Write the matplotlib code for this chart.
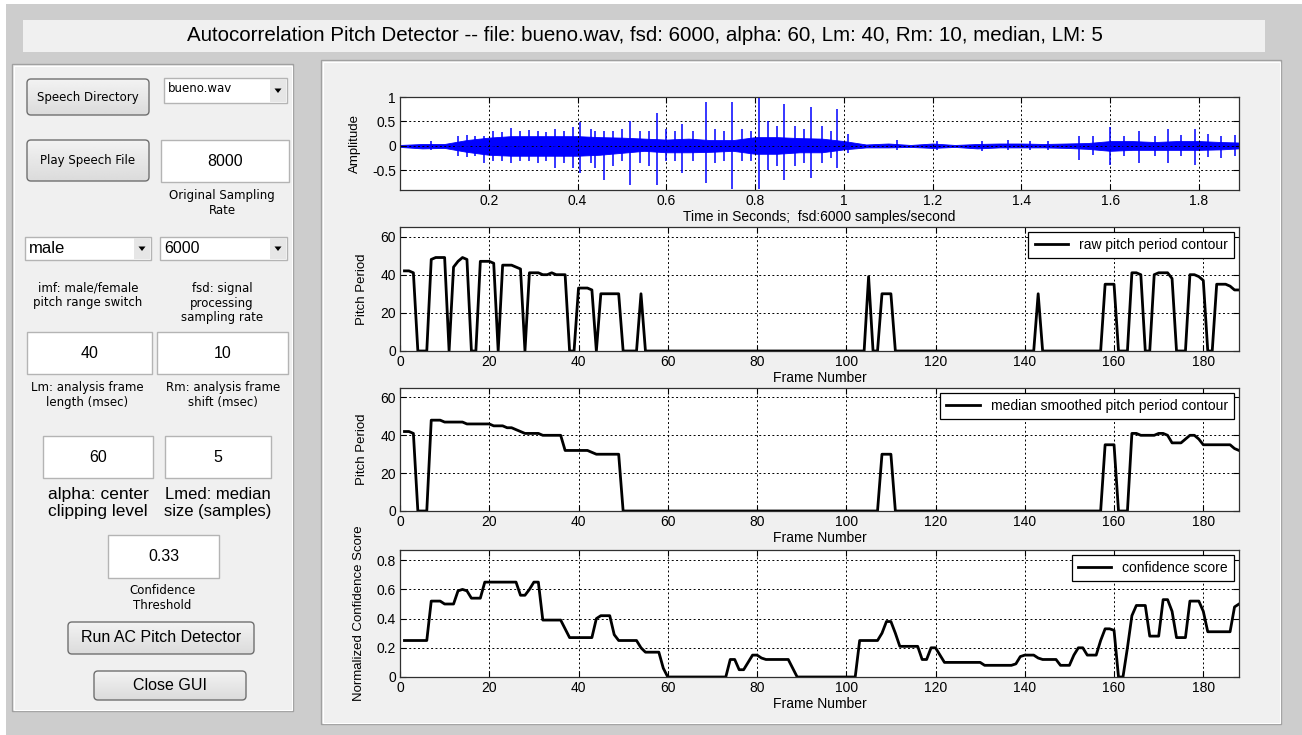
import numpy as np
import matplotlib
matplotlib.use('Agg')
import matplotlib.pyplot as plt
from matplotlib import font_manager
from matplotlib.patches import Rectangle, FancyBboxPatch, Polygon

W, H = 1302, 735

# ---- data ----
frames = np.arange(1, 189)

raw_pitch = ([42, 42, 41, 0, 0, 0, 48, 49, 49, 49, 0,
              44, 47, 49, 48, 0, 0, 47, 47, 47, 46, 0,
              45, 45, 45, 44, 43, 0,
              41, 41, 41, 40, 40, 41, 40, 40, 40, 0, 0,
              33, 33, 33, 32, 0, 30, 30, 30, 30, 30, 0, 0, 0, 0, 30]
             + [0] * 50 + [39, 0, 0, 30, 30, 30] + [0] * 32 + [30] + [0] * 14
             + [35, 35, 35, 0, 0, 0, 41, 41, 40, 0, 0,
                40, 41, 41, 41, 38, 0, 0, 0, 40, 40, 39, 37, 0, 0,
                35, 35, 35, 34, 32, 32])

median_pitch = ([42, 42, 41, 0, 0, 0, 48, 48, 48, 47, 47, 47, 47, 47,
                 46, 46, 46, 46, 46, 46, 45, 45, 45, 44, 44, 43, 42,
                 41, 41, 41, 41, 40, 40, 40, 40, 40, 32, 32, 32, 32, 32, 32,
                 31, 30, 30, 30, 30, 30, 30]
                + [0] * 58 + [30, 30, 30] + [0] * 47
                + [35, 35, 35, 0, 0, 0, 41, 41, 40, 40, 40, 40, 41, 41, 40,
                   36, 36, 36, 38, 40, 40, 38, 35, 35, 35, 35, 35, 35, 35, 33, 32])

confidence = ([0.25] * 6 + [0.52, 0.52, 0.52, 0.50, 0.50, 0.50, 0.59, 0.60, 0.59,
                            0.54, 0.54, 0.54] + [0.65] * 8 + [0.56, 0.56, 0.60, 0.65, 0.65]
              + [0.39] * 5 + [0.33] + [0.27] * 6 + [0.40, 0.42, 0.42, 0.42, 0.29]
              + [0.25] * 5 + [0.20, 0.17, 0.17, 0.17, 0.17, 0.06] + [0] * 14
              + [0.12, 0.12, 0.05, 0.05, 0.10, 0.15, 0.15, 0.13] + [0.12] * 6 + [0.06]
              + [0] * 14 + [0.25] * 5 + [0.30, 0.38, 0.38, 0.30] + [0.21] * 5
              + [0.12, 0.12, 0.20, 0.20, 0.15] + [0.10] * 9 + [0.08] * 7
              + [0.09, 0.14, 0.15, 0.15, 0.15, 0.13, 0.12, 0.12, 0.12, 0.12,
                 0.08, 0.08, 0.08, 0.15, 0.20, 0.20, 0.15, 0.15, 0.15, 0.25,
                 0.33, 0.33, 0.32, 0, 0, 0.20, 0.42, 0.49, 0.49, 0.49,
                 0.28, 0.28, 0.28, 0.53, 0.53, 0.45, 0.27, 0.27, 0.27,
                 0.52, 0.52, 0.52, 0.45] + [0.31] * 6 + [0.48, 0.50])

# speech waveform: dense core envelope every 0.05 s plus the visible pulses
t_env = [0.0, 0.05, 0.1, 0.15, 0.2, 0.25, 0.3, 0.35, 0.4, 0.45, 0.5, 0.55, 0.6,
         0.65, 0.7, 0.75, 0.8, 0.85, 0.9, 0.95, 1.0, 1.05, 1.1, 1.15, 1.2, 1.25,
         1.3, 1.35, 1.4, 1.45, 1.5, 1.55, 1.6, 1.65, 1.7, 1.75, 1.8, 1.85, 1.89]
env_hi = [0.02, 0.04, 0.04, 0.12, 0.17, 0.2, 0.2, 0.2, 0.2, 0.18, 0.17, 0.15, 0.13,
          0.15, 0.12, 0.12, 0.18, 0.18, 0.16, 0.15, 0.1, 0.03, 0.05, 0.02, 0.05, 0.02,
          0.04, 0.05, 0.05, 0.04, 0.05, 0.06, 0.1, 0.1, 0.08, 0.1, 0.1, 0.08, 0.07]
env_lo = [-0.02, -0.05, -0.04, -0.12, -0.18, -0.2, -0.2, -0.2, -0.2, -0.18, -0.14,
          -0.1, -0.13, -0.13, -0.12, -0.1, -0.16, -0.16, -0.13, -0.13, -0.07, -0.03,
          -0.03, -0.02, -0.04, -0.02, -0.05, -0.03, -0.03, -0.03, -0.04, -0.06,
          -0.1, -0.08, -0.08, -0.08, -0.08, -0.07, -0.05]
spike_t = [0.07, 0.13, 0.15, 0.17, 0.19, 0.21, 0.23, 0.25, 0.27, 0.29, 0.31, 0.33,
           0.35, 0.37, 0.39, 0.405, 0.43, 0.44, 0.46, 0.48, 0.5, 0.518, 0.54,
           0.56, 0.578, 0.6, 0.62, 0.635, 0.66, 0.69, 0.71, 0.73, 0.748, 0.77,
           0.79, 0.808, 0.83, 0.85, 0.865, 0.89, 0.91, 0.925, 0.95, 0.97, 0.985,
           1.01, 1.12, 1.21, 1.31, 1.37, 1.42, 1.46, 1.53, 1.56, 1.6, 1.63,
           1.665, 1.7, 1.73, 1.76, 1.79, 1.82, 1.85, 1.88]
spike_hi = [0.1, 0.2, 0.22, 0.2, 0.2, 0.3, 0.28, 0.37, 0.3, 0.32, 0.3, 0.28,
            0.35, 0.3, 0.38, 0.49, 0.35, 0.3, 0.3, 0.3, 0.35, 0.5, 0.3,
            0.3, 0.67, 0.35, 0.3, 0.45, 0.3, 0.9, 0.35, 0.3, 0.9, 0.35,
            0.3, 1.0, 0.5, 0.4, 0.85, 0.4, 0.35, 0.8, 0.4, 0.3, 0.75,
            0.25, 0.12, 0.1, 0.1, 0.12, 0.1, 0.1, 0.2, 0.2, 0.38, 0.2,
            0.3, 0.2, 0.35, 0.22, 0.35, 0.25, 0.2, 0.22]
spike_lo = [-0.08, -0.2, -0.22, -0.2, -0.35, -0.3, -0.3, -0.35, -0.3, -0.3, -0.35, -0.3,
            -0.45, -0.35, -0.45, -0.55, -0.35, -0.45, -0.7, -0.4, -0.3, -0.8, -0.35,
            -0.4, -0.8, -0.3, -0.3, -0.55, -0.3, -0.75, -0.35, -0.3, -0.87, -0.3,
            -0.3, -0.87, -0.5, -0.4, -0.7, -0.4, -0.35, -0.65, -0.35, -0.25, -0.45,
            -0.15, -0.08, -0.08, -0.1, -0.08, -0.08, -0.08, -0.28, -0.18, -0.38, -0.2,
            -0.35, -0.2, -0.35, -0.2, -0.38, -0.22, -0.25, -0.2]

wave_xticks = [0.2, 0.4, 0.6, 0.8, 1.0, 1.2, 1.4, 1.6, 1.8]
wave_xticklabels = ['0.2', '0.4', '0.6', '0.8', '1', '1.2', '1.4', '1.6', '1.8']
wave_yticks = [-0.5, 0, 0.5, 1]
wave_yticklabels = ['-0.5', '0', '0.5', '1']
frame_ticks = [0, 20, 40, 60, 80, 100, 120, 140, 160, 180]
pitch_ticks = [0, 20, 40, 60]
conf_ticks = [0, 0.2, 0.4, 0.6, 0.8]
conf_ticklabels = ['0', '0.2', '0.4', '0.6', '0.8']

title = ('Autocorrelation Pitch Detector -- file: bueno.wav, fsd: 6000, '
         'alpha: 60, Lm: 40, Rm: 10, median, LM: 5')

# ---- fonts ----
names = {f.name for f in font_manager.fontManager.ttflist}
NARROW = 'Liberation Sans Narrow' if 'Liberation Sans Narrow' in names else 'Liberation Sans'
SMALL = dict(family='DejaVu Sans', size=8.5, color='black')
BIG = dict(family='Liberation Sans', size=11.5, color='black')

fig = plt.figure(figsize=(W / 100, H / 100), dpi=100)
fig.patch.set_facecolor('white')

# ---- GUI background drawn in pixel coordinates ----
bg = fig.add_axes([0, 0, 1, 1])
bg.axis('off')


def rect(x0, y0, x1, y1, fc, ec='none', lw=1.0, z=1):
    bg.add_patch(Rectangle((x0, y0), x1 - x0, y1 - y0, fc=fc, ec=ec, lw=lw, zorder=z))


def button(x0, y0, x1, y1, label, font):
    p = FancyBboxPatch((x0, y0), x1 - x0, y1 - y0,
                       boxstyle='round,pad=0,rounding_size=4',
                       fc='none', ec='#707070', lw=1.0, zorder=4)
    bg.add_patch(p)
    grad = np.linspace(0.95, 0.86, 40).reshape(-1, 1)
    im = bg.imshow(grad, extent=(x0, x1, y1, y0), cmap='gray', vmin=0, vmax=1,
                   aspect='auto', zorder=3)
    im.set_clip_path(p)
    bg.text((x0 + x1) / 2, (y0 + y1) / 2, label, ha='center', va='center', zorder=5, **font)


def edit(x0, y0, x1, y1, label):
    rect(x0, y0, x1, y1, 'white', '#b4b4b4', 1.0, z=3)
    bg.text((x0 + x1) / 2, (y0 + y1) / 2, label, ha='center', va='center', zorder=5, **BIG)


def popup(x0, y0, x1, y1, label, font, dy=0):
    rect(x0, y0, x1, y1, 'white', '#b4b4b4', 1.0, z=3)
    rect(x1 - 17, y0 + 1, x1 - 1, y1 - 1, '#e6e6e6', 'none', z=4)
    cx, cy = x1 - 9, (y0 + y1) / 2
    bg.add_patch(Polygon([[cx - 3.5, cy - 2], [cx + 3.5, cy - 2], [cx, cy + 2.5]],
                         closed=True, fc='black', ec='none', zorder=5))
    bg.text(x0 + 4, (y0 + y1) / 2 + dy, label, ha='left', va='center', zorder=5, **font)


def label(x, y, s, font):
    bg.text(x, y, s, ha='center', va='center', linespacing=1.15, zorder=5, **font)


rect(6, 4, W, H, '#cdcdcd', z=0)
rect(23, 20, 1265, 52, '#f0f0f0', z=1)
bg.text(645, 35, title, ha='center', va='center', family='Liberation Sans', size=14.8)

# panels with etched border
for x0, y0, x1, y1 in [(12, 64, 293, 711), (321, 60, 1281, 724)]:
    rect(x0, y0, x1, y1, '#f0f0f0', '#a0a0a0', 1.0, z=1)
    rect(x0 + 1.5, y0 + 1.5, x1 - 1.5, y1 - 1.5, 'none', 'white', 0.8, z=2)

button(27, 79, 149, 115, 'Speech Directory', SMALL)
popup(164, 78, 287, 103, 'bueno.wav', SMALL, dy=-2)
button(27, 140, 149, 181, 'Play Speech File', SMALL)
edit(161, 140, 289, 182, '8000')
label(222, 203, 'Original Sampling\nRate', SMALL)
popup(25, 237, 151, 260, 'male', dict(BIG, size=12), dy=0)
popup(160, 237, 287, 260, '6000', BIG)
label(88, 295, 'imf: male/female\npitch range switch', SMALL)
label(222, 303, 'fsd: signal\nprocessing\nsampling rate', SMALL)
edit(27, 332, 152, 374, '40')
edit(157, 332, 288, 374, '10')
label(87, 395, 'Lm: analysis frame\nlength (msec)', SMALL)
label(223, 395, 'Rm: analysis frame\nshift (msec)', SMALL)
edit(43, 436, 153, 478, '60')
edit(165, 436, 271, 478, '5')
label(98, 503, 'alpha: center\nclipping level', dict(BIG, size=12.5))
label(218, 503, 'Lmed: median\nsize (samples)', dict(BIG, size=12))
edit(108, 535, 219, 578, '0.33')
label(162, 598, 'Confidence\nThreshold', SMALL)
button(68, 622, 254, 654, 'Run AC Pitch Detector', BIG)
button(94, 671, 246, 700, 'Close GUI', BIG)

bg.set_xlim(0, W)
bg.set_ylim(H, 0)


# ---- the four plot axes ----
TICKSIZE = 10


def make_axes(x0, y0, x1, y1):
    ax = fig.add_axes([x0 / W, 1 - y1 / H, (x1 - x0) / W, (y1 - y0) / H])
    ax.set_facecolor('white')
    for s in ax.spines.values():
        s.set_color('#303030')
        s.set_linewidth(0.9)
    ax.tick_params(direction='in', length=4, top=True, right=True, width=0.8, pad=3)
    ax.grid(True, color='black', linestyle=(0, (2, 2.5)), linewidth=0.7)
    return ax


def style_ticks(ax):
    for t in ax.get_xticklabels() + ax.get_yticklabels():
        t.set_family(NARROW)
        t.set_fontsize(TICKSIZE)


XL = dict(family=NARROW, size=10)
YL = dict(family='Liberation Sans', size=9.5)

ax1 = make_axes(400, 97, 1239, 190)
ax1.fill_between(t_env, env_lo, env_hi, color='blue', lw=0.6)
ax1.vlines(spike_t, spike_lo, spike_hi, color='blue', lw=1.1)
ax1.set_xlim(0, 1.89)
ax1.set_ylim(-0.9, 1)
ax1.set_xticks(wave_xticks, wave_xticklabels)
ax1.set_yticks(wave_yticks, wave_yticklabels)
ax1.set_xlabel('Time in Seconds;  fsd:6000 samples/second', labelpad=1, **XL)
ax1.set_ylabel('Amplitude', **YL)
ax1.yaxis.set_label_coords(-0.046, 0.5)
style_ticks(ax1)

specs = [(227, 351, raw_pitch, 'raw pitch period contour', (0, 65), pitch_ticks, None,
          'Pitch Period', -0.038),
         (388, 511, median_pitch, 'median smoothed pitch period contour', (0, 65), pitch_ticks, None,
          'Pitch Period', -0.038),
         (550, 677, confidence, 'confidence score', (0, 0.87), conf_ticks, conf_ticklabels,
          'Normalized Confidence Score', -0.042)]

for y0, y1, series, name, ylim, yt, ytl, ylab, lx in specs:
    ax = make_axes(400, y0, 1239, y1)
    ax.plot(frames, series, color='black', lw=2, label=name)
    ax.set_xlim(0, 188)
    ax.set_ylim(*ylim)
    ax.set_xticks(frame_ticks)
    if ytl is None:
        ax.set_yticks(yt)
    else:
        ax.set_yticks(yt, ytl)
    ax.set_xlabel('Frame Number', labelpad=1, **XL)
    ax.set_ylabel(ylab, **YL)
    ax.yaxis.set_label_coords(lx, 0.5)
    style_ticks(ax)
    leg = ax.legend(loc='upper right', fancybox=False, edgecolor='black', framealpha=1,
                    handlelength=2.4, borderaxespad=0.35, borderpad=0.45,
                    prop=dict(family=NARROW, size=10))
    leg.get_frame().set_linewidth(0.9)

fig.savefig('out.png', dpi=100, facecolor=fig.get_facecolor())
